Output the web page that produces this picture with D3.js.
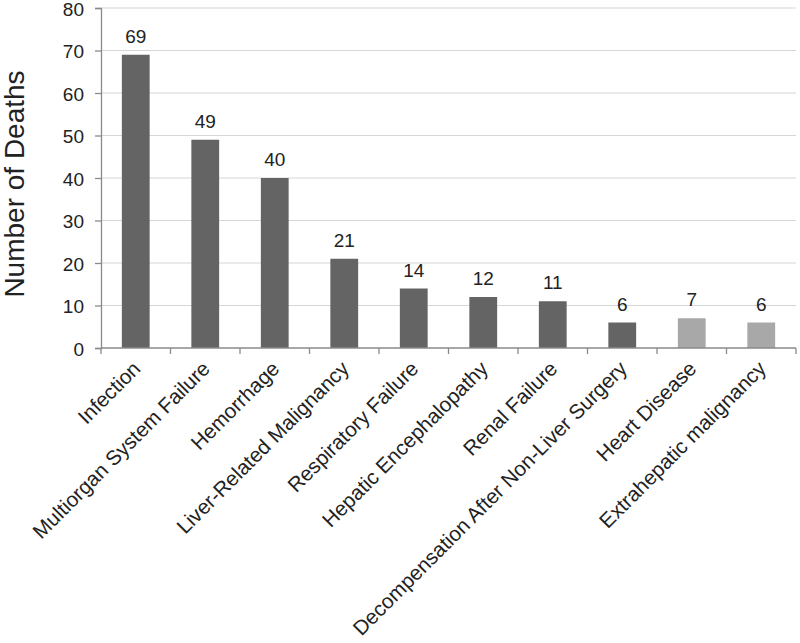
<!DOCTYPE html>
<html><head><meta charset="utf-8">
<script src="https://cdn.jsdelivr.net/npm/d3@7"></script>
<style>body{margin:0;background:#fff}svg{display:block}text{font-family:"Liberation Sans",Arial,sans-serif;fill:#222}</style>
</head><body>
<svg id="c" width="800" height="643"></svg>
<script>
const categories = ["Infection","Multiorgan System Failure","Hemorrhage","Liver-Related Malignancy","Respiratory Failure","Hepatic Encephalopathy","Renal Failure","Decompensation After Non-Liver Surgery","Heart Disease","Extrahepatic malignancy"];
const deaths = [69,49,40,21,14,12,11,6,7,6];
const groups = ["dark","dark","dark","dark","dark","dark","dark","dark","light","light"];
const yTicks = [0,10,20,30,40,50,60,70,80];

const svg = d3.select("#c");
const x0 = 101, x1 = 796, yTop = 8, yBot = 348;
const x = d3.scaleBand().domain(categories).range([x0, x1]).padding(0);
const y = d3.scaleLinear().domain([0, 80]).range([yBot, yTop]);
const color = {dark: "#646464", light: "#a8a8a8"};

// gridlines
svg.append("g").selectAll("line").data(yTicks.filter(d => d > 0)).join("line")
  .attr("x1", x0).attr("x2", x1).attr("y1", d => y(d)).attr("y2", d => y(d))
  .attr("stroke", "#d6d6d6").attr("stroke-width", 1.2);

// y axis
const yAxis = svg.append("g").attr("transform", `translate(${x0},0)`)
  .call(d3.axisLeft(y).tickValues(yTicks).tickSize(6).tickPadding(11));
yAxis.select(".domain").attr("stroke", "#8a8a8a").attr("stroke-width", 1.3);
yAxis.selectAll(".tick line").attr("stroke", "#8a8a8a").attr("stroke-width", 1.3);
yAxis.selectAll(".tick text").attr("font-size", 19).attr("fill", "#222").attr("dy", "0.38em")
  .style("font-family", '"Liberation Sans", Arial, sans-serif');

// bars
const bw = x.bandwidth() * 0.4;
svg.append("g").selectAll("rect").data(categories).join("rect")
  .attr("x", (d) => x(d) + (x.bandwidth() - bw) / 2)
  .attr("width", bw)
  .attr("y", (d, i) => y(deaths[i]))
  .attr("height", (d, i) => y(0) - y(deaths[i]))
  .attr("fill", (d, i) => color[groups[i]]);

// value labels
svg.append("g").selectAll("text").data(categories).join("text")
  .attr("x", d => x(d) + x.bandwidth() / 2)
  .attr("y", (d, i) => y(deaths[i]) - 12)
  .attr("text-anchor", "middle").attr("font-size", 19)
  .text((d, i) => deaths[i]);

// x axis line + ticks at boundaries
svg.append("line").attr("x1", x0).attr("x2", x1).attr("y1", yBot).attr("y2", yBot)
  .attr("stroke", "#8a8a8a").attr("stroke-width", 1.3);
const bounds = categories.map(c => x(c)).concat([x1]);
svg.append("g").selectAll("line").data(bounds).join("line")
  .attr("x1", d => d).attr("x2", d => d).attr("y1", yBot).attr("y2", yBot + 6)
  .attr("stroke", "#8a8a8a").attr("stroke-width", 1.3);

// category labels
svg.append("g").selectAll("text").data(categories).join("text")
  .attr("transform", d => `translate(${x(d) + x.bandwidth() / 2 + 6},${yBot + 22}) rotate(-45)`)
  .attr("text-anchor", "end").attr("font-size", 20.7)
  .text(d => d);

// y title
svg.append("text").attr("transform", `translate(${24},${184}) rotate(-90)`)
  .attr("text-anchor", "middle").attr("font-size", 28).text("Number of Deaths");
</script>
</body></html>
